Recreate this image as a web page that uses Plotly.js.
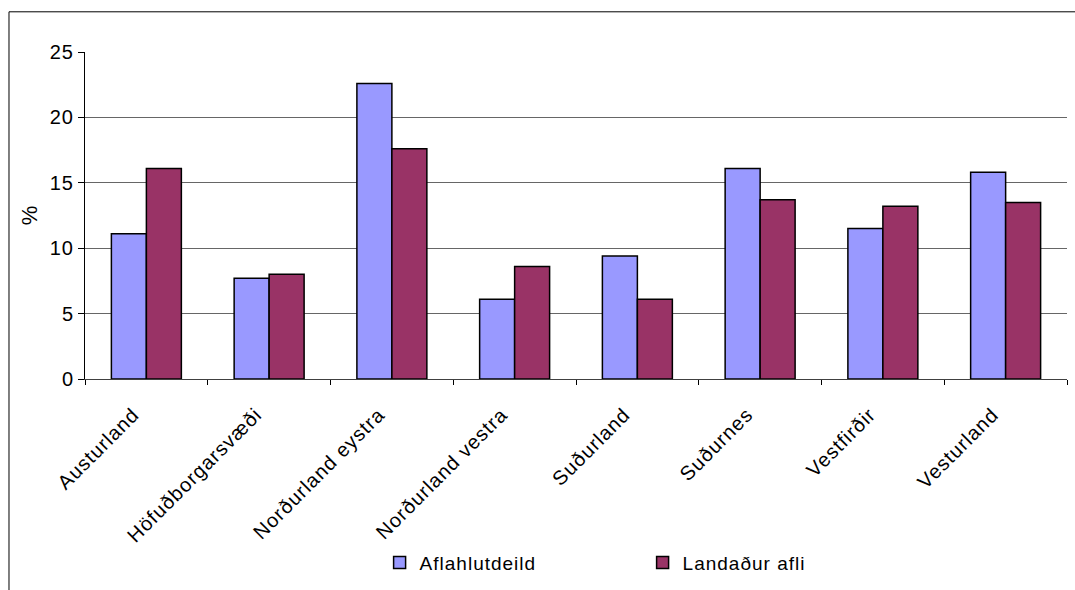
<!DOCTYPE html>
<html>
<head>
<meta charset="utf-8">
<script src="https://cdn.plot.ly/plotly-3.0.1.min.js"></script>
<style>
html,body{margin:0;padding:0;background:#fff;}
#chart{width:1075px;height:590px;}
#chart .xtick text, #chart .ytick text, #chart .legendtext {letter-spacing:1px;}
</style>
</head>
<body>
<div id="chart"></div>
<script>
const categories = ["Austurland","Höfuðborgarsvæði","Norðurland eystra","Norðurland vestra","Suðurland","Suðurnes","Vestfirðir","Vesturland"];
const aflahlutdeild = [11.1, 7.7, 22.6, 6.1, 9.4, 16.1, 11.5, 15.8];
const landadurAfli = [16.1, 8.0, 17.6, 8.6, 6.1, 13.7, 13.2, 13.5];
const yTicks = [0, 5, 10, 15, 20, 25];

const FONT = "Liberation Sans, Arial, sans-serif";

const traces = [
  {type:"bar", name:"Aflahlutdeild", x:categories, y:aflahlutdeild,
   marker:{color:"#9999FF", line:{color:"#000", width:1.5}}},
  {type:"bar", name:"Landaður afli", x:categories, y:landadurAfli,
   marker:{color:"#993366", line:{color:"#000", width:1.5}}}
];

const layout = {
  width:1075, height:590,
  margin:{l:85, r:8, t:52, b:209},
  paper_bgcolor:"#fff", plot_bgcolor:"#fff",
  font:{family:FONT, size:19, color:"#000"},
  barmode:"group", bargap:0.43, bargroupgap:0,
  showlegend:true,
  legend:{orientation:"h", x:0.3, xanchor:"left", y:-0.5615, yanchor:"middle",
          font:{family:FONT, size:19, color:"#000"}, entrywidth:218, entrywidthmode:"pixels",
          bgcolor:"rgba(0,0,0,0)"},
  xaxis:{type:"category", automargin:false, tickangle:-45, tickson:"boundaries",
         ticks:"outside", ticklen:5, tickcolor:"#000", tickwidth:1,
         ticklabelstandoff:15, ticklabelshift:-13,
         showline:true, linecolor:"#404040", linewidth:1, showgrid:false,
         tickfont:{family:FONT, size:20, color:"#000"}},
  yaxis:{range:[0,25], tickvals:yTicks, automargin:false, ticks:"outside", ticklen:6,
         tickcolor:"#000", showline:true, linecolor:"#000", linewidth:1,
         showgrid:true, gridcolor:"#666", gridwidth:1, zeroline:false,
         tickfont:{family:FONT, size:20, color:"#000"},
         title:{text:"%", font:{family:FONT, size:22, color:"#000"}, standoff:8}},
  shapes:[{type:"rect", xref:"paper", yref:"paper", x0:-0.0774, x1:2, y0:-2, y1:1.1229,
           line:{color:"#000", width:1}, fillcolor:"rgba(0,0,0,0)", layer:"below"}]
};

Plotly.newPlot("chart", traces, layout, {displayModeBar:false, staticPlot:true});
</script>
</body>
</html>
